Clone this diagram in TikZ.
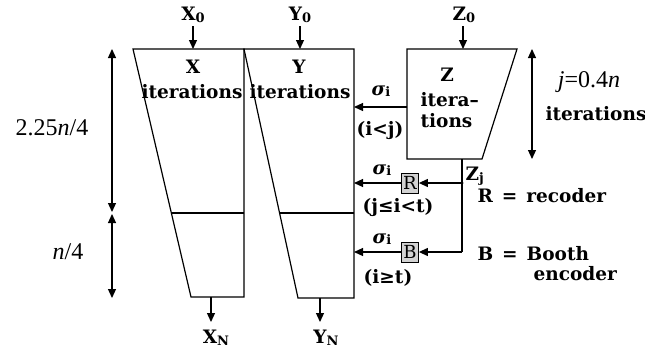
\documentclass[tikz,border=0pt]{standalone}
\usepackage{fontspec}
\setmainfont{DejaVu Serif}
\newfontfamily\tms{Liberation Serif}
\usetikzlibrary{arrows.meta}
\newcommand\sbs[1]{\raisebox{-1.5pt}{\fontsize{13}{13}\selectfont #1}}
\newcommand\sig{{\itshape σ}\sbs{i}}
\begin{document}
\begin{tikzpicture}[x=1pt,y=-1pt, line width=1.2pt,
  >={Triangle[length=9pt,width=8pt]},
  lbl/.style={font=\fontsize{18.5}{20}\selectfont\bfseries, inner sep=0pt},
  dim/.style={font=\tms\fontsize{24}{26}\selectfont, inner sep=0pt},
  enc/.style={draw, fill=gray!35, line width=0.8pt, minimum width=17pt, minimum height=20pt, inner sep=0pt, font=\fontsize{18}{18}\selectfont}]
\useasboundingbox (0,0) rectangle (645,351);
% boxes
\draw (133,49) -- (244,49) -- (244,297) -- (191,297) -- cycle;
\draw (244,49) -- (354,49) -- (354,298) -- (298,298) -- cycle;
\draw (171.4,213) -- (244,213);
\draw (279.6,213) -- (354,213);
\draw (407,49) -- (517,49) -- (482,159) -- (407,159) -- cycle;
% coordinates
\coordinate (xt) at (193,49);
\coordinate (yt) at (300,49);
\coordinate (zt) at (463,49);
\coordinate (xb) at (211,297);
\coordinate (yb) at (320,298);
\coordinate (xe) at (211,322);
\coordinate (ye) at (320,322);
\coordinate (zl) at (407,107);
\coordinate (yr1) at (354,107);
\coordinate (yr2) at (354,183);
\coordinate (yr3) at (354,252);
\coordinate (zb) at (462,159);
\coordinate (jn) at (462,183);
\coordinate (bc) at (462,252);
% top labels
\node[lbl] (x0) at (193,15) {X\sbs{0}};
\node[lbl] (y0) at (300,15) {Y\sbs{0}};
\node[lbl] (z0) at (464,15) {Z\sbs{0}};
\coordinate (x0a) at (193,26);
\coordinate (y0a) at (300,26);
\coordinate (z0a) at (463,26);
\draw[->] (x0a) -- (xt);
\draw[->] (y0a) -- (yt);
\draw[->] (z0a) -- (zt);
% in-box text
\node[lbl] (xl) at (193,67) {X};
\node[lbl] (xi) at (192,92) {iterations};
\node[lbl] (yl) at (299,67) {Y};
\node[lbl] (yi) at (300,92) {iterations};
\node[lbl] (zl1) at (447,75) {Z};
\node[lbl,anchor=west] (zl2) at (420,100) {itera–};
\node[lbl,anchor=west] (zl3) at (420,121) {tions};
% bottom
\node[lbl] (xn) at (216,338) {X\sbs{N}};
\node[lbl] (yn) at (326,338) {Y\sbs{N}};
\draw[->] (xb) -- (xe);
\draw[->] (yb) -- (ye);
% sigma from Z
\draw[->] (zl) -- (yr1);
\node[lbl] (s1) at (381,91) {\sig};
\node[lbl] (c1) at (380,131) {(i<j)};
% encoders
\node[enc] (R) at (410,183) {R};
\node[enc] (B) at (410,252) {B};
\draw (zb) -- (bc);
\fill (jn) circle (1.5pt);
\draw[->] (jn) -- (R.east);
\draw[->] (bc) -- (B.east);
\draw[->] (R.west) -- (yr2);
\draw[->] (B.west) -- (yr3);
\node[lbl] (s2) at (382,170) {\sig};
\node[lbl] (c2) at (398,208) {(j≤i<t)};
\node[lbl] (s3) at (382,239) {\sig};
\node[lbl] (c3) at (388,278) {(i≥t)};
\node[lbl,anchor=west] (zj) at (465,176) {Z\sbs{j}};
\node[lbl,anchor=west] (rr) at (477,196) {R\hspace{9pt}=\hspace{9pt}recoder};
\node[lbl,anchor=west] (bb) at (477,254) {B\hspace{9pt}=\hspace{9pt}Booth};
\node[lbl,anchor=west] (be) at (533,274) {encoder};
% right dimension
\coordinate (rd1) at (532,49);
\coordinate (rd2) at (532,159);
\draw[<->] (rd1) -- (rd2);
\node[dim] (jl) at (589,82) {\textit{j}=0.4\textit{n}};
\node[lbl] (ji) at (596,114) {iterations};
% left dimension
\coordinate (ld1) at (112,49);
\coordinate (ld2) at (112,212);
\coordinate (ld3) at (112,214);
\coordinate (ld4) at (112,298);
\draw[<->] (ld1) -- (ld2);
\draw[<->] (ld3) -- (ld4);
\node[dim] (l1) at (52,128) {2.25\textit{n}/4};
\node[dim] (l2) at (68,252) {\textit{n}/4};
\end{tikzpicture}
\end{document}
